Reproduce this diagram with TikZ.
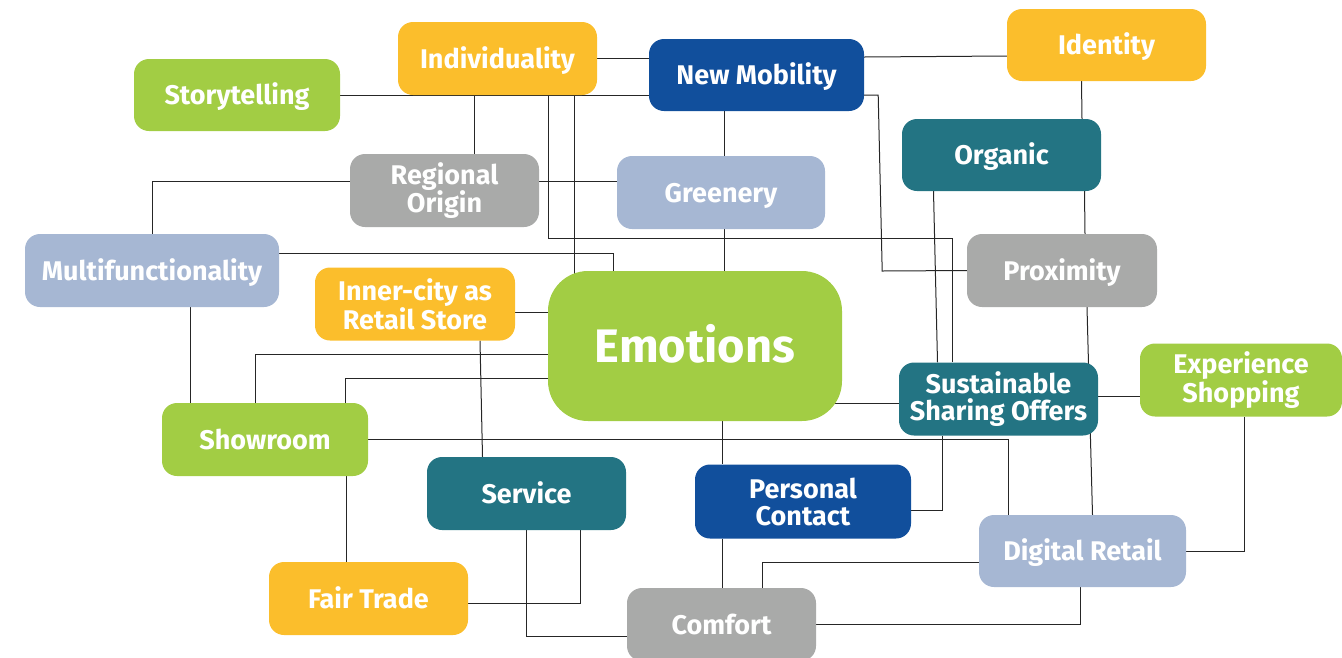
\documentclass[tikz,border=0pt]{standalone}
\usepackage{fontspec}
\setmainfont{Fira Sans}
\usetikzlibrary{calc}
\pgfdeclarelayer{bg}
\pgfsetlayers{bg,main}
\definecolor{cyel}{HTML}{FBBE2C}
\definecolor{cgrn}{HTML}{A2CD44}
\definecolor{cdbl}{HTML}{114F9C}
\definecolor{cteal}{HTML}{237483}
\definecolor{cgry}{HTML}{A9AAA9}
\definecolor{clbl}{HTML}{A6B7D3}
\begin{document}
\begin{tikzpicture}[x=1pt,y=-1pt,
  box/.style={rounded corners=15pt, text=white, align=center, inner sep=0pt,
    font=\fontsize{27}{27}\selectfont\bfseries, minimum height=73pt},
  one/.style={text height=19pt, text depth=0pt},
  link/.style={draw=black!85, line width=1pt}]
\useasboundingbox (0,0) rectangle (1342,657);
% nodes
\node[box, one, fill=cyel, minimum width=199pt] (ind) at (497.5,58.5) {Individuality};
\node[box, one, fill=cdbl, minimum width=215pt, minimum height=72pt] (nm) at (756.5,75) {New Mobility};
\node[box, one, fill=cyel, minimum width=199pt, minimum height=72pt] (id) at (1106.5,45) {Identity};
\node[box, one, fill=cgrn, minimum width=206pt, minimum height=72pt] (st) at (237,95) {Storytelling};
\node[box, one, fill=cteal, minimum width=199pt, minimum height=72pt] (org) at (1001.5,155) {Organic};
\node[box, fill=cgry, minimum width=189pt] (ro) at (444.5,190.5) {Regional\\Origin};
\node[box, one, fill=clbl, minimum width=208pt] (gr) at (721,192.5) {Greenery};
\node[box, one, fill=clbl, minimum width=254pt] (mf) at (152,270.5) {Multifunctionality};
\node[box, one, fill=cgry, minimum width=190pt] (pr) at (1062,270.5) {Proximity};
\node[box, fill=cyel, minimum width=200pt] (ic) at (415,304) {Inner-city as\\Retail Store};
\node[box, fill=cgrn, minimum width=294pt, minimum height=150pt, rounded corners=40pt,
  font=\fontsize{47}{50}\selectfont\bfseries, text height=32.5pt, text depth=0pt] (em) at (695,346) {Emotions};
\node[box, fill=cteal, minimum width=199pt] (sso) at (998.5,399) {Sustainable\\Sharing Offers};
\node[box, fill=cgrn, minimum width=202pt] (es) at (1241,380) {Experience\\Shopping};
\node[box, one, fill=cgrn, minimum width=206pt] (sh) at (265,439.5) {Showroom};
\node[box, one, fill=cteal, minimum width=199pt] (sv) at (526.5,493.5) {Service};
\node[box, fill=cdbl, minimum width=216pt, minimum height=74pt] (pc) at (803,501.5) {Personal\\Contact};
\node[box, one, fill=clbl, minimum width=207pt, minimum height=72pt] (dr) at (1082.5,551) {Digital Retail};
\node[box, one, fill=cyel, minimum width=199pt] (ft) at (368.5,598.5) {Fair Trade};
\node[box, one, fill=cgry, minimum width=189pt] (cf) at (721.5,624.5) {Comfort};
% connectors
\begin{pgfonlayer}{bg}
\draw[link] (ind.east) -- (ind.east -| nm.west);
\draw[link] ([yshift=18]nm.east) -- ([yshift=-11]id.west);
\draw[link] (st.east) -- (st.east -| nm.west);
\draw[link] ([xshift=-23]ind.south) -- ([xshift=-23]ind.south |- ro.north);
\draw[link] ([xshift=51]ind.south) -- ++(0,143) -| ([xshift=-46]sso.north);
\draw[link] ([xshift=77]ind.south) -- ([xshift=77]ind.south |- em.center);
\draw[link] ([yshift=9]ro.east) -- ([yshift=9]ro.east -| gr.west);
\draw[link] ([xshift=-32]nm.south) -- ([xshift=-32]nm.south |- gr.north);
\draw[link] ([xshift=3]gr.south) -- ([xshift=3]gr.south |- em.center);
\draw[link] ([yshift=-20]nm.east) -- ++(14,0) -- ++(4,176) -- (pr.west);
\draw[link] ([xshift=-25]id.south) -- ([xshift=80.5]org.north);
\draw[link] ([xshift=83]org.south) -- ([xshift=23]pr.north);
\draw[link] ([xshift=-68]org.south) -- ([xshift=-61]sso.north);
\draw[link] ([xshift=25]pr.south) -- ([xshift=10]dr.north);
\draw[link] ([yshift=9]ro.west) -| (mf.north);
\draw[link] ([yshift=17.5]mf.east) -| ([xshift=-82]em.center);
\draw[link] ([xshift=38]mf.south) -- ([xshift=38]mf.south |- sh.north);
\draw[link] ([yshift=-8]ic.east) -- ([yshift=-8]ic.east -| em.center);
\draw[link] ([xshift=65]ic.south) -- ([xshift=-44]sv.north);
\draw[link] ([xshift=-10]sh.north) |- ([yshift=-8]em.center);
\draw[link] ([xshift=80]sh.north) |- ([yshift=-32]em.center);
\draw[link] (sh.east) -| ([xshift=-74]dr.north);
\draw[link] ([xshift=27]em.south) -- ([xshift=27]em.south |- pc.north);
\draw[link] ([yshift=-57]em.center) -- ([yshift=-57]em.center -| sso.west);
\draw[link] ([xshift=-56]sso.south) |- ([yshift=-8.5]pc.east);
\draw[link] ([yshift=3]sso.east) -- ([yshift=3]sso.east -| es.west);
\draw[link] ([xshift=3]es.south) |- (dr.east);
\draw[link] ([xshift=-81]pc.south) -- ([xshift=-81]pc.south |- cf.north);
\draw[link] (sv.south) |- ([yshift=-11.5]cf.west);
\draw[link] ([xshift=54]sv.south) |- ([yshift=-4.5]ft.east);
\draw[link] ([xshift=81]sh.south) -- ([xshift=81]sh.south |- ft.north);
\draw[link] ([xshift=41]cf.north) |- ([yshift=-11]dr.west);
\draw[link] (cf.east) -| ([xshift=-2]dr.south);
\end{pgfonlayer}
\end{tikzpicture}
\end{document}
